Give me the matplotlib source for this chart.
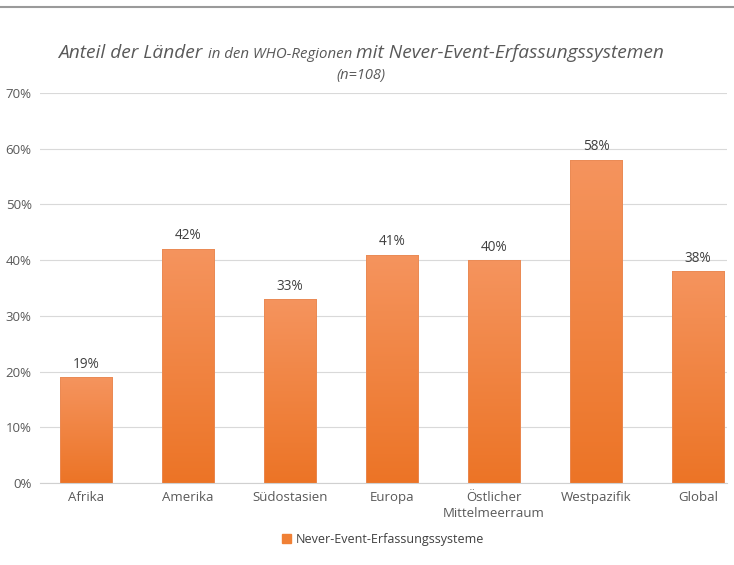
import matplotlib
matplotlib.use("Agg")
import matplotlib.pyplot as plt
import numpy as np
from matplotlib.lines import Line2D
from matplotlib.colors import LinearSegmentedColormap

categories = ["Afrika", "Amerika", "Südostasien", "Europa", "Östlicher\nMittelmeerraum", "Westpazifik", "Global"]
values = [19, 42, 33, 41, 40, 58, 38]
yticks = [0, 10, 20, 30, 40, 50, 60, 70]
legend_label = "Never-Event-Erfassungssysteme"

plt.rcParams['font.family'] = ['Open Sans', 'DejaVu Sans']
W, H = 734, 565
fig = plt.figure(figsize=(W/100, H/100), dpi=100)
ax = fig.add_axes([40/W, 1-483/H, (727-40)/W, (483-93)/H])

x = np.arange(len(categories))
bw = 0.51
bars = ax.bar(x, values, width=bw, color="#F08035", zorder=2)
cmap = LinearSegmentedColormap.from_list("g", ["#EC7426", "#F5945E"])
grad = np.linspace(0, 1, 256).reshape(-1, 1)
for b, v in zip(bars, values):
    b.set_facecolor("none")
    b.set_edgecolor("#E98A55")
    b.set_linewidth(0.6)
    im = ax.imshow(grad, cmap=cmap, origin="lower", aspect="auto",
                   extent=[b.get_x(), b.get_x()+b.get_width(), 0, v], zorder=1.9)
    im.set_clip_path(b)
    ax.text(b.get_x()+b.get_width()/2, v + 1.0, f"{v}%", ha="center", va="bottom",
            fontsize=9.8, color="#404040")

ax.set_xlim(-0.451, 6.284)
ax.set_ylim(0, 70)
ax.set_yticks(yticks)
ax.set_yticklabels([f"{t}%" for t in yticks], fontsize=9.5, color="#595959")
ax.set_xticks(x)
ax.set_xticklabels(categories, fontsize=9.5, color="#595959", linespacing=1.3)
ax.tick_params(axis="both", length=0, pad=6)
ax.grid(axis="y", color="#D9D9D9", linewidth=0.8, zorder=0)
for s in ["top", "right", "left"]:
    ax.spines[s].set_visible(False)
ax.spines["bottom"].set_color("#D0D0D0")
ax.set_axisbelow(True)

# legend
ax.legend([plt.Rectangle((0, 0), 1, 1, color="#F08035")], [legend_label],
          loc="center", bbox_to_anchor=(0.5, -0.145), frameon=False,
          fontsize=9, handlelength=0.7, handleheight=0.7, handletextpad=0.4,
          labelcolor="#404040")

# top line
fig.add_artist(Line2D([0, 1], [1-7/H, 1-7/H], color="#9A9A9A", linewidth=1.5))

# title with mixed sizes
pieces = [("Anteil der Länder ", 13.8), ("in den WHO-Regionen ", 10.8), ("mit Never-Event-Erfassungssystemen", 13.8)]
fig.canvas.draw()
r = fig.canvas.get_renderer()
texts = []
for s, fs in pieces:
    t = fig.text(0, 1-58/H, s, fontsize=fs, style="italic", color="#595959", va="baseline", ha="left")
    texts.append(t)
widths = [t.get_window_extent(r).width for t in texts]
total = sum(widths)
cx = 361
start = cx - total/2
for t, w in zip(texts, widths):
    t.set_x(start/W)
    start += w
fig.text(cx/W, 1-75/H, "(n=108)", fontsize=10.5, style="italic", color="#595959", ha="center", va="center")

fig.savefig("out.png", dpi=100)
